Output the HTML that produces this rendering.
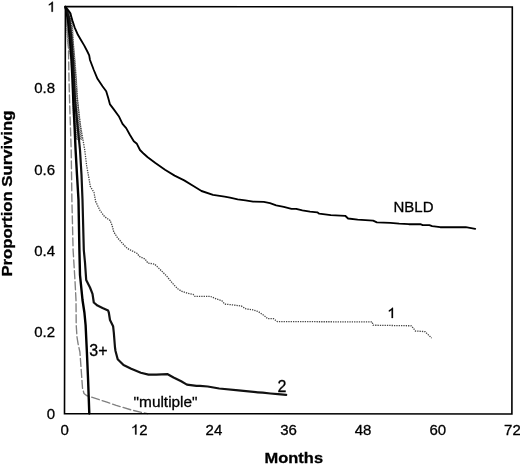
<!DOCTYPE html>
<html><head><meta charset="utf-8"><style>
html,body{margin:0;padding:0;background:#fff;}
body{width:520px;height:464px;overflow:hidden;position:relative;}
svg{position:absolute;left:0;top:0;will-change:transform;}
text{font-family:"Liberation Sans",sans-serif;fill:#000;stroke:#000;stroke-width:0.3px;}
</style></head><body>
<svg width="520" height="464" viewBox="0 0 520 464">
<rect x="0" y="0" width="520" height="464" fill="#fff"/>
<defs><pattern id="stip" width="2" height="2" patternUnits="userSpaceOnUse"><rect width="2" height="2" fill="#888"/><rect width="1" height="1" fill="#111"/><rect x="1" y="1" width="1" height="1" fill="#333"/></pattern></defs>
<polygon points="65.5,7 65.8,12.6 66.3,30 67,42 69,52 70.5,60 71.7,80 72.2,100 73,120 74.3,130 75.2,140 82.5,140 81.4,130 80.1,120 78.2,100 77,80 75.6,60 74.5,50 73.7,40 73.4,30 72.3,20 71.3,12.6 67,7" fill="url(#stip)" fill-opacity="0.6"/>
<g fill="none" stroke-linejoin="round" stroke-linecap="round">
<polyline points="65.5,7.0 66.5,20.0 67.8,35.0 68.5,50.0 69.0,80.0 69.8,108.0 71.2,150.0 71.9,200.0 73.1,250.0 75.0,281.0 76.0,300.0 76.2,325.0 77.0,337.0 78.1,343.8 79.9,352.0 81.3,371.3 82.5,388.0 84.0,393.5 86.5,395.5 93.1,397.7 106.9,402.2 116.2,405.4 131.5,410.0 147.5,413.7" stroke="#808080" stroke-width="1.35" stroke-dasharray="8,3"/>
<polyline points="65.5,7.0 68.0,12.0 71.0,20.0 73.0,40.0 74.5,60.0 76.0,80.0 77.5,100.0 80.5,125.0 84.8,150.0 86.6,165.0 89.3,180.0 90.3,186.0 94.0,192.0 95.6,201.0 97.5,205.0 100.1,210.2 104.6,216.3 110.0,220.0 112.2,225.3 113.7,231.4 117.5,237.4 122.8,243.4 127.3,248.0 131.5,250.2 137.3,253.1 139.2,256.0 145.0,258.5 147.9,262.7 154.6,263.7 158.5,267.5 166.2,275.2 173.8,284.4 177.7,288.3 181.5,290.8 187.3,292.7 193.1,294.0 195.0,296.0 210.4,296.0 216.2,298.5 221.9,300.4 224.8,303.7 233.5,304.6 241.2,305.6 246.0,308.5 252.7,309.4 258.5,311.3 264.2,315.2 267.7,318.3 273.5,318.3 277.3,321.2 372.1,321.5 373.1,324.8 411.5,325.4 415.4,330.6 425.0,331.2 431.7,337.7" stroke="#444" stroke-width="1.3" stroke-dasharray="1.3,1.05" stroke-linecap="butt" stroke-linejoin="miter" transform="translate(0,0.4)"/>
<polyline points="65.5,7.0 66.5,11.0 68.0,20.0 70.0,40.0 71.5,60.0 72.5,80.0 73.3,100.0 74.5,125.0 75.6,150.0 77.0,175.0 78.5,200.0 79.4,250.0 80.0,275.0 82.5,300.0 84.4,312.5 85.6,325.0 86.8,350.0 88.1,380.0 89.3,413.5" stroke="#000" stroke-width="2.4"/>
<polyline points="65.5,7.0 67.0,11.0 69.5,20.0 71.5,40.0 73.0,60.0 74.0,80.0 75.0,100.0 77.5,125.0 80.0,150.0 81.5,175.0 82.5,200.0 83.8,250.0 85.0,262.5 86.2,280.0 90.0,287.5 92.5,293.8 93.8,302.5 97.5,305.6 102.5,308.1 108.1,310.6 108.8,312.5 110.0,320.0 113.1,326.2 113.8,332.5 115.0,347.5 115.5,351.0 117.7,359.2 123.5,365.0 131.2,368.8 140.8,372.7 148.5,374.6 156.2,374.6 167.7,374.2 173.5,377.5 181.2,381.3 186.9,384.6 196.5,385.8 200.0,385.8 207.7,386.5 219.2,388.5 238.5,390.4 257.7,392.3 262.7,392.7 270.4,393.5 278.0,394.2 286.2,394.8" stroke="#111" stroke-width="2.2"/>
<polyline points="65.5,7.0 68.0,10.0 70.3,13.2 72.5,20.8 74.6,27.3 77.9,34.8 81.1,40.2 84.3,45.6 87.6,52.0 89.2,55.3 90.0,60.0 93.8,70.0 97.5,78.8 102.5,86.2 106.2,91.2 108.1,97.5 110.0,104.4 113.8,109.4 118.8,116.2 122.5,123.8 126.2,128.1 130.0,135.0 133.8,141.2 136.9,143.8 140.0,150.0 143.8,153.8 147.7,157.3 155.4,163.1 165.0,169.8 174.6,175.6 184.2,180.4 193.8,186.2 201.5,191.0 213.0,194.8 224.6,196.7 230.0,197.6 237.7,199.3 245.4,200.4 253.1,201.6 263.8,201.9 270.0,203.2 276.2,205.3 283.8,206.8 291.5,208.8 296.2,208.8 302.3,210.4 310.0,211.7 317.3,212.3 319.2,213.7 330.8,215.2 345.2,215.8 348.1,218.5 357.7,219.6 373.1,220.6 376.9,222.3 390.4,222.9 399.2,223.7 408.8,224.2 420.4,224.2 422.7,225.1 429.4,225.2 432.1,226.2 440.2,227.2 465.8,227.2 475.2,228.8" stroke="#000" stroke-width="1.85"/>
</g>
<polygon points="65.4,6.5 512.3,7.0 511.9,414.0 64.5,413.6" fill="none" stroke="#000" stroke-width="1.6" stroke-linejoin="miter"/>
<g font-size="15" text-anchor="end">
<path d="M763,0 L583,0 L583,1147 Q518,1085 412,1023 Q306,961 221,930 L221,1104 Q372,1175 485,1276 Q598,1377 645,1472 L763,1472 Z" transform="translate(47.26,11.70) scale(0.00732,-0.00674)" fill="#000" stroke="#000" stroke-width="41.0"/>
<text x="55" y="93.2">0.8</text>
<text x="55" y="174.6">0.6</text>
<text x="55" y="255.9">0.4</text>
<text x="55" y="337.2">0.2</text>
<text x="55" y="418.6">0</text>
</g>
<g font-size="15" text-anchor="middle">
<text x="64.6" y="434.5">0</text>
<path d="M763,0 L583,0 L583,1147 Q518,1085 412,1023 Q306,961 221,930 L221,1104 Q372,1175 485,1276 Q598,1377 645,1472 L763,1472 Z" transform="translate(130.86,434.50) scale(0.00732,-0.00674)" fill="#000" stroke="#000" stroke-width="41.0"/><text x="139.2" y="434.5" text-anchor="start">2</text>
<text x="213.9" y="434.5">24</text>
<text x="288.5" y="434.5">36</text>
<text x="363.1" y="434.5">48</text>
<text x="437.8" y="434.5">60</text>
<text x="512.4" y="434.5">72</text>
</g>
<text x="293.8" y="462.9" font-size="15.5" font-weight="bold" text-anchor="middle" textLength="58.5" lengthAdjust="spacingAndGlyphs">Months</text>
<text transform="translate(12.3,193.6) rotate(-90)" font-size="14.6" font-weight="bold" text-anchor="middle" textLength="166" lengthAdjust="spacingAndGlyphs">Proportion Surviving</text>
<g font-size="15">
<text x="393.5" y="212.2">NBLD</text>
<path d="M763,0 L583,0 L583,1147 Q518,1085 412,1023 Q306,961 221,930 L221,1104 Q372,1175 485,1276 Q598,1377 645,1472 L763,1472 Z" transform="translate(387.20,318.00) scale(0.00757,-0.00696)" fill="#000" stroke="#000" stroke-width="39.6"/>
<text x="277.4" y="392.2" font-size="16">2</text>
<text x="89.3" y="356" font-size="16">3+</text>
<text x="133.6" y="407.2" font-size="15.4">"multiple"</text>
</g>
</svg>
</body></html>
